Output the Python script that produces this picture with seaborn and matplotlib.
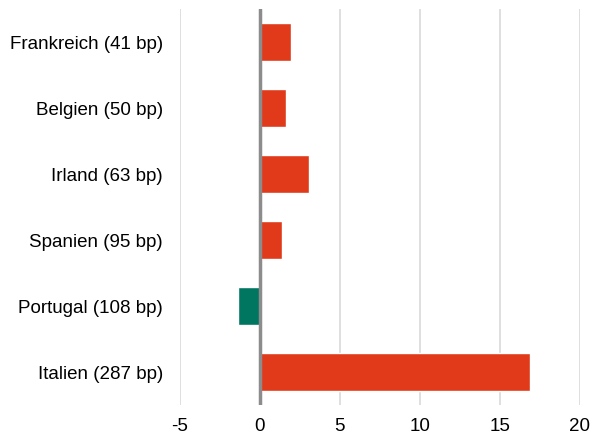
import pandas as pd
import seaborn as sns
import matplotlib.pyplot as plt

# Data
countries = ['Frankreich (41 bp)', 'Belgien (50 bp)', 'Irland (63 bp)',
             'Spanien (95 bp)', 'Portugal (108 bp)', 'Italien (287 bp)']
values = [1.94, 1.62, 3.05, 1.4, -1.37, 16.88]
xticks = [-5, 0, 5, 10, 15, 20]

df = pd.DataFrame({'country': countries, 'value': values})
df['sign'] = ['pos' if v >= 0 else 'neg' for v in values]

sns.set_style('white')
plt.rcParams['font.family'] = ['Liberation Sans', 'DejaVu Sans']

fig = plt.figure(figsize=(5.92, 4.36), dpi=100)
ax = fig.add_axes([0.3036, 0.0711, 0.6757, 0.908])

sns.barplot(data=df, x='value', y='country', hue='sign',
            palette={'pos': '#E03A1B', 'neg': '#007560'},
            width=0.575, dodge=False, legend=False, ax=ax, saturation=1)

ax.set_xlim(-5, 20)
ax.set_ylim(5.5, -0.5)
ax.set_xticks(xticks)
ax.set_xticklabels([str(t) for t in xticks])
ax.grid(axis='x', color='#d9d9d9', linewidth=1.2)
ax.set_axisbelow(True)
ax.axvline(0, color='#8c8c8c', linewidth=2.5, zorder=3)
for s in ax.spines.values():
    s.set_visible(False)
ax.tick_params(axis='both', length=0, labelsize=13.5, colors='black')
ax.tick_params(axis='y', pad=12)
ax.tick_params(axis='x', pad=9)
ax.set_xlabel('')
ax.set_ylabel('')

plt.savefig('out.png', dpi=100)
